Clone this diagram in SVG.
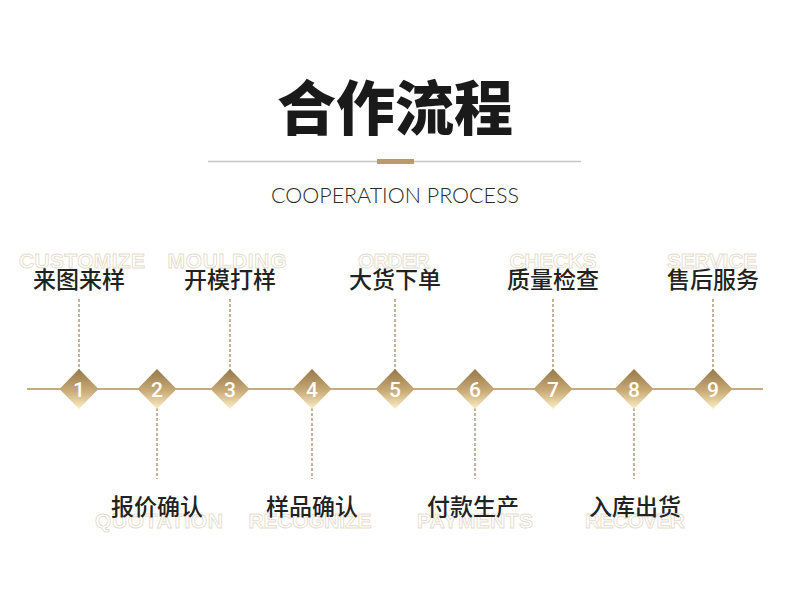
<svg xmlns="http://www.w3.org/2000/svg" width="790" height="589" viewBox="0 0 790 589">
<defs>
<linearGradient id="g" x1="0" y1="0" x2="0" y2="1">
<stop offset="0" stop-color="#957749"/>
<stop offset="0.55" stop-color="#c9ab78"/>
<stop offset="1" stop-color="#fbefc6"/>
</linearGradient>
<style>
.cn{font-family:"Noto Sans CJK SC",sans-serif;font-size:23px;font-weight:500;fill:#222;text-anchor:middle}
.en{font-family:"Liberation Sans",Arial,sans-serif;font-size:21px;font-weight:700;fill:#fff;stroke:#e6dccd;stroke-width:0.9;text-anchor:middle}
.num{font-family:Roboto,"Liberation Sans",sans-serif;font-size:21px;font-weight:500;fill:#fff;text-anchor:middle}
.dash{stroke:#a08157;stroke-width:1.2;stroke-dasharray:3 2;fill:none}
.dia{fill:url(#g)}
</style>
</defs>
<rect width="790" height="589" fill="#fff"/>
<g id="title">
<text x="395" y="130" font-family="'Noto Sans CJK SC',sans-serif" font-size="59" font-weight="900" fill="#1a1a1a" text-anchor="middle">合作流程</text>
<line x1="208" y1="161.5" x2="581" y2="161.5" stroke="#c4c4c4" stroke-width="1.5"/>
<rect x="377" y="159" width="37" height="5" fill="#b89a6e"/>
<text x="395" y="203" font-family="Lato,'Open Sans',sans-serif" font-size="22" font-weight="300" fill="#2a2a2a" text-anchor="middle" textLength="248" lengthAdjust="spacingAndGlyphs">COOPERATION PROCESS</text>
</g>
<g id="connectors">
<line x1="27" y1="389" x2="763" y2="389" stroke="#c7ab7e" stroke-width="2"/>
<line class="dash" x1="79" y1="299" x2="79" y2="370"/>
<line class="dash" x1="230" y1="299" x2="230" y2="370"/>
<line class="dash" x1="395" y1="299" x2="395" y2="370"/>
<line class="dash" x1="553" y1="299" x2="553" y2="370"/>
<line class="dash" x1="713" y1="299" x2="713" y2="370"/>
<line class="dash" x1="157" y1="408" x2="157" y2="479"/>
<line class="dash" x1="312" y1="408" x2="312" y2="479"/>
<line class="dash" x1="475" y1="408" x2="475" y2="479"/>
<line class="dash" x1="634" y1="408" x2="634" y2="479"/>
</g>
<g id="step1">
<text class="en" x="82" y="268" textLength="126" lengthAdjust="spacing">CUSTOMIZE</text>
<text class="cn" x="79" y="288">来图来样</text>
<polygon class="dia" points="79,369 98.5,389 79,409 59.5,389"/>
<text class="num" x="79" y="397">1</text>
</g>
<g id="step2">
<text class="en" x="159" y="528" textLength="128" lengthAdjust="spacing">QUOTATION</text>
<text class="cn" x="157" y="515">报价确认</text>
<polygon class="dia" points="157,369 176.5,389 157,409 137.5,389"/>
<text class="num" x="157" y="397">2</text>
</g>
<g id="step3">
<text class="en" x="227" y="268" textLength="119" lengthAdjust="spacing">MOULDING</text>
<text class="cn" x="230" y="288">开模打样</text>
<polygon class="dia" points="230,369 249.5,389 230,409 210.5,389"/>
<text class="num" x="230" y="397">3</text>
</g>
<g id="step4">
<text class="en" x="310" y="528" textLength="123" lengthAdjust="spacing">RECOGNIZE</text>
<text class="cn" x="312" y="515">样品确认</text>
<polygon class="dia" points="312,369 331.5,389 312,409 292.5,389"/>
<text class="num" x="312" y="397">4</text>
</g>
<g id="step5">
<text class="en" x="394" y="268" textLength="72" lengthAdjust="spacing">ORDER</text>
<text class="cn" x="395" y="288">大货下单</text>
<polygon class="dia" points="395,369 414.5,389 395,409 375.5,389"/>
<text class="num" x="395" y="397">5</text>
</g>
<g id="step6">
<text class="en" x="475" y="528" textLength="116" lengthAdjust="spacing">PAYMENTS</text>
<text class="cn" x="473" y="515">付款生产</text>
<polygon class="dia" points="475,369 494.5,389 475,409 455.5,389"/>
<text class="num" x="475" y="397">6</text>
</g>
<g id="step7">
<text class="en" x="553" y="268" textLength="87" lengthAdjust="spacing">CHECKS</text>
<text class="cn" x="553" y="288">质量检查</text>
<polygon class="dia" points="553,369 572.5,389 553,409 533.5,389"/>
<text class="num" x="553" y="397">7</text>
</g>
<g id="step8">
<text class="en" x="635" y="528" textLength="100" lengthAdjust="spacing">RECOVER</text>
<text class="cn" x="635" y="515">入库出货</text>
<polygon class="dia" points="634,369 653.5,389 634,409 614.5,389"/>
<text class="num" x="634" y="397">8</text>
</g>
<g id="step9">
<text class="en" x="712" y="268" textLength="90" lengthAdjust="spacing">SERVICE</text>
<text class="cn" x="713" y="288">售后服务</text>
<polygon class="dia" points="713,369 732.5,389 713,409 693.5,389"/>
<text class="num" x="713" y="397">9</text>
</g>
</svg>
